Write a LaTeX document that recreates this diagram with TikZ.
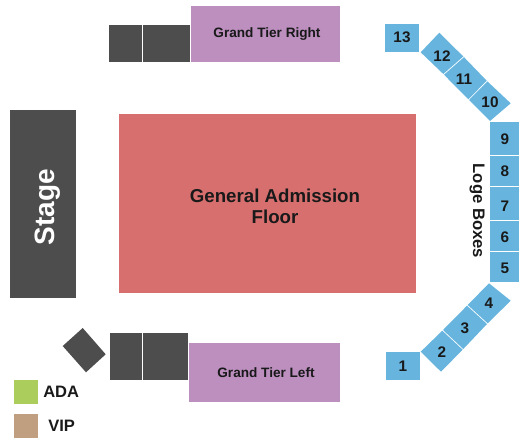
\documentclass[tikz,border=0pt]{standalone}
\usepackage{fontspec}
\setmainfont{Liberation Sans}
\definecolor{boxblue}{HTML}{67B5DF}
\definecolor{tierpurple}{HTML}{BC8FBF}
\definecolor{floorred}{HTML}{D76F6F}
\definecolor{stagegray}{HTML}{4D4D4D}
\definecolor{adagreen}{HTML}{AACD5C}
\definecolor{viptan}{HTML}{BF9F80}
\tikzset{
    label/.style={font=\bfseries\fontsize{#1}{#1}\selectfont, text=black!90, inner sep=0pt, align=center},
    label/.default=11.5
}
\begin{document}
\begin{tikzpicture}[x=0.75pt, y=-0.75pt]
    \useasboundingbox (0,0) rectangle (525,447);
    % Stage and floor
    \fill[stagegray] (10,110) rectangle (76,298);
    \fill[floorred] (119,114) rectangle (416,293);
    \node[label=21, text=white, rotate=90] (stage) at (48,207) {Stage};
    \node[label=14] (floor) at (275,206) {General Admission\\[2pt]Floor};
    % Grand tiers
    \fill[tierpurple] (191,6) rectangle (340,62);
    \fill[tierpurple] (189,343) rectangle (340,402);
    \node[label=10.2] (tierright) at (267,34) {Grand Tier Right};
    \node[label=10.2] (tierleft) at (266,373) {Grand Tier Left};
    % Dark blocks
    \foreach \xa/\ya/\xb/\yb in {109/25/142/62, 143/25/190/62, 110/333/142/380, 143/333/188/380}
        \fill[stagegray] (\xa,\ya) rectangle (\xb,\yb);
    \fill[stagegray] (82.7,328) -- (105.7,354.3) -- (86,372.3) -- (62.7,346) -- cycle;
    % Straight boxes
    \foreach \ya/\yb/\yt/\num in {122/155/139/9, 156/186/171/8, 187/220/206/7, 221/251/237/6, 252/282/268/5} {
        \fill[boxblue] (490,\ya) rectangle (519,\yb);
        \node[label] (box\num) at (505,\yt) {\num};
    }
    \fill[boxblue] (385,24) rectangle (419,52);
    \node[label] (box13) at (402,37) {13};
    \fill[boxblue] (386,352) rectangle (420,380);
    \node[label] (box1) at (403,366) {1};
    % Angled boxes
    \fill[boxblue] (439.3,32.7) -- (463.3,56.5) -- (443.3,74) -- (420.7,52.3) -- cycle;
    \fill[boxblue] (464,57.2) -- (486.7,80.7) -- (468.3,99.3) -- (444,74.7) -- cycle;
    \fill[boxblue] (487.4,81.4) -- (510.7,103.3) -- (490,121) -- (469,100) -- cycle;
    \fill[boxblue] (489,283.3) -- (510.7,300.7) -- (487.7,323.3) -- (467.7,305) -- cycle;
    \fill[boxblue] (467,305.7) -- (487,324) -- (463.3,349) -- (443,330) -- cycle;
    \fill[boxblue] (442.3,330.7) -- (462.6,349.7) -- (441,371.7) -- (420.7,351.7) -- cycle;
    \foreach \x/\y/\num in {442/56/12, 464/79/11, 490/102/10, 489/303/4, 465/328/3, 442/352/2}
        \node[label] (box\num) at (\x,\y) {\num};
    \node[label=12.5, rotate=-90] (loge) at (477,211) {Loge Boxes};
    % Legend
    \fill[adagreen] (14,380) rectangle (38,404);
    \fill[viptan] (14,414) rectangle (38,438);
    \node[label=12.4, anchor=west] (ada) at (43,392) {ADA};
    \node[label=12.4, anchor=west] (vip) at (48,426) {VIP};
\end{tikzpicture}
\end{document}
